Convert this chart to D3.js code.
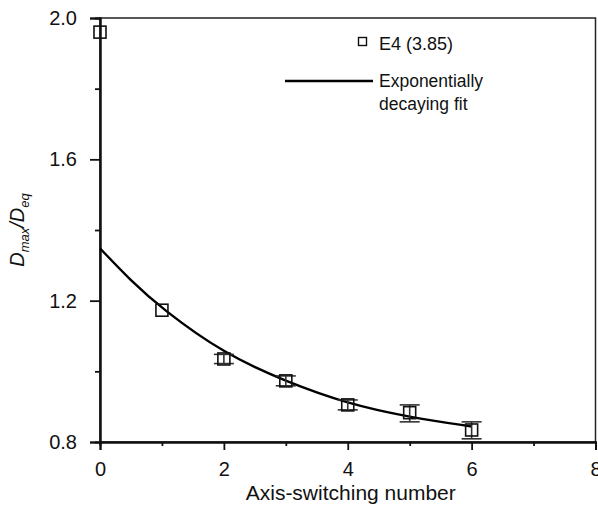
<!DOCTYPE html>
<html>
<head>
<meta charset="utf-8">
<script src="https://cdn.jsdelivr.net/npm/d3@7"></script>
<style>
  body { margin: 0; background: #fff; }
  svg { font-family: "Liberation Sans", Arial, sans-serif; }
</style>
</head>
<body>
<div id="chart"></div>
<script>
// measured points (E4)
const switchNum = [0, 1, 2, 3, 4, 5, 6];
const ratio = [1.960, 1.173, 1.035, 0.973, 0.905, 0.883, 0.834];
const errLow = [null, null, 1.022, 0.959, 0.891, 0.857, 0.809];
const errHigh = [null, null, 1.048, 0.987, 0.919, 0.905, 0.857];

// exponentially decaying fit
const fitX = [0, 0.5, 1, 2, 3, 4, 5, 6];
const fitY = [1.348, 1.256, 1.177, 1.050, 0.971, 0.908, 0.870, 0.844];

const xTicks = [0, 2, 4, 6, 8];
const xMinor = [1, 3, 5, 7];
const yTicks = [0.8, 1.2, 1.6, 2.0];
const yMinor = [1.0, 1.4, 1.8];

const width = 598, height = 506;
const margin = { top: 18, right: 2, bottom: 64, left: 100 };

const svg = d3.select("#chart")
  .append("svg")
  .attr("width", width)
  .attr("height", height);

const x = d3.scaleLinear()
  .domain([0, 8])
  .range([margin.left, width - margin.right - 0.5]);

const y = d3.scaleLinear()
  .domain([0.8, 2.0])
  .range([height - margin.bottom, margin.top]);

// frame (top and right without ticks)
svg.append("rect")
  .attr("x", x(0))
  .attr("y", y(2.0))
  .attr("width", x(8) - x(0))
  .attr("height", y(0.8) - y(2.0))
  .attr("fill", "none")
  .attr("stroke", "#222")
  .attr("stroke-width", 1.5);

// x axis
const xAxis = svg.append("g")
  .attr("transform", `translate(0,${y(0.8)})`);
xAxis.call(d3.axisBottom(x).tickValues(xTicks).tickFormat(d3.format("d")).tickSize(8).tickPadding(12));
xAxis.append("g").call(d3.axisBottom(x).tickValues(xMinor).tickFormat("").tickSize(4));

// y axis
const yAxis = svg.append("g")
  .attr("transform", `translate(${x(0)},0)`);
yAxis.call(d3.axisLeft(y).tickValues(yTicks).tickFormat(d3.format(".1f")).tickSize(10).tickPadding(13));
yAxis.append("g").call(d3.axisLeft(y).tickValues(yMinor).tickFormat("").tickSize(5));

svg.selectAll(".domain").attr("stroke", "#111").attr("stroke-width", 2);
svg.selectAll(".tick line").attr("stroke", "#111").attr("stroke-width", 1.8);
svg.selectAll(".tick text")
  .attr("fill", "#111")
  .style("font-size", "20px")
  .style("font-family", "'Liberation Sans', Arial, sans-serif");

// axis titles
svg.append("text")
  .attr("x", (x(0) + x(8)) / 2 + 3)
  .attr("y", 500)
  .attr("text-anchor", "middle")
  .attr("fill", "#111")
  .style("font-size", "21px")
  .text("Axis-switching number");

const yLab = svg.append("text")
  .attr("transform", `translate(24,${(y(0.8) + y(2.0)) / 2}) rotate(-90)`)
  .attr("text-anchor", "middle")
  .attr("fill", "#111")
  .style("font-size", "20px")
  .style("font-style", "italic");
yLab.append("tspan").text("D");
yLab.append("tspan").attr("dy", 5).style("font-size", "13px").text("max");
yLab.append("tspan").attr("dy", -5).text("/D");
yLab.append("tspan").attr("dy", 5).style("font-size", "13px").text("eq");

// fit curve
const fitData = fitX.map((d, i) => [d, fitY[i]]);
svg.append("path")
  .datum(fitData)
  .attr("fill", "none")
  .attr("stroke", "#000")
  .attr("stroke-width", 2.4)
  .attr("d", d3.line().x(d => x(d[0])).y(d => y(d[1])).curve(d3.curveBasis));

// error bars
const pts = switchNum.map((d, i) => ({ x: d, y: ratio[i], lo: errLow[i], hi: errHigh[i] }));
const eb = svg.append("g").attr("stroke", "#333").attr("stroke-width", 1.6);
pts.filter(d => d.lo != null).forEach(d => {
  eb.append("line").attr("x1", x(d.x)).attr("x2", x(d.x)).attr("y1", y(d.lo)).attr("y2", y(d.hi));
  eb.append("line").attr("x1", x(d.x) - 10).attr("x2", x(d.x) + 10).attr("y1", y(d.lo)).attr("y2", y(d.lo));
  eb.append("line").attr("x1", x(d.x) - 10).attr("x2", x(d.x) + 10).attr("y1", y(d.hi)).attr("y2", y(d.hi));
});

// square markers
svg.append("g")
  .selectAll("rect")
  .data(pts)
  .join("rect")
  .attr("x", d => x(d.x) - 6)
  .attr("y", d => y(d.y) - 6)
  .attr("width", 12)
  .attr("height", 12)
  .attr("fill", "none")
  .attr("stroke", "#111")
  .attr("stroke-width", 1.6);

// legend
const lg = svg.append("g");
lg.append("rect")
  .attr("x", 358.5).attr("y", 37.5)
  .attr("width", 8).attr("height", 8)
  .attr("fill", "none").attr("stroke", "#111").attr("stroke-width", 1.4);
lg.append("text")
  .attr("x", 379).attr("y", 50)
  .attr("fill", "#111").style("font-size", "18px")
  .text("E4 (3.85)");
lg.append("line")
  .attr("x1", 285).attr("x2", 373)
  .attr("y1", 81).attr("y2", 81)
  .attr("stroke", "#000").attr("stroke-width", 2.4);
lg.append("text")
  .attr("x", 379).attr("y", 87)
  .attr("fill", "#111").style("font-size", "17.5px")
  .text("Exponentially");
lg.append("text")
  .attr("x", 379).attr("y", 110)
  .attr("fill", "#111").style("font-size", "17.5px")
  .text("decaying fit");
</script>
</body>
</html>
